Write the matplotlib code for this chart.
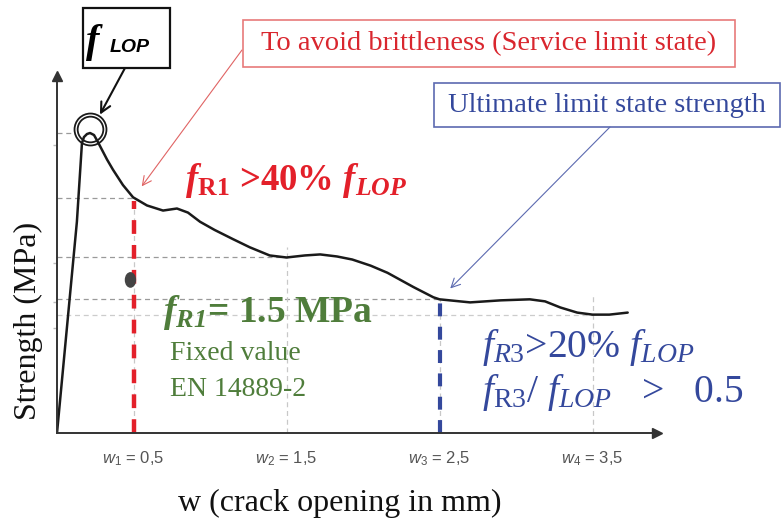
import numpy as np
import matplotlib.pyplot as plt
from matplotlib.patches import Rectangle, Ellipse
from matplotlib.transforms import offset_copy

plt.rcParams['mathtext.fontset'] = 'custom'
plt.rcParams['mathtext.rm'] = 'Liberation Serif'
plt.rcParams['mathtext.it'] = 'Liberation Serif:italic'
plt.rcParams['mathtext.bf'] = 'Liberation Serif:bold'
plt.rcParams['mathtext.bfit'] = 'Liberation Serif:bold:italic'
plt.rcParams['mathtext.sf'] = 'Liberation Sans'
plt.rcParams['mathtext.cal'] = 'Liberation Sans:italic'

# stress - crack opening curve (w in mm, strength in MPa)
w_mm = [0.00, 0.13, 0.163, 0.176, 0.196, 0.216, 0.242, 0.268, 0.327, 0.366, 0.431,
        0.497, 0.588, 0.693, 0.784, 0.856, 0.935, 1.03, 1.15, 1.26, 1.39, 1.50,
        1.62, 1.72, 1.83, 1.93, 2.05, 2.16, 2.33, 2.46, 2.50, 2.70, 2.90, 3.09,
        3.19, 3.29, 3.40, 3.50, 3.61, 3.73]
strength = [0.00, 2.07, 2.84, 2.90, 2.93, 2.94, 2.92, 2.85, 2.68, 2.58, 2.43,
            2.31, 2.23, 2.18, 2.20, 2.16, 2.07, 1.99, 1.90, 1.82, 1.74, 1.72,
            1.74, 1.75, 1.73, 1.70, 1.64, 1.57, 1.43, 1.33, 1.31, 1.28, 1.30, 1.31,
            1.29, 1.23, 1.18, 1.16, 1.16, 1.18]

w_ticks = [0.5, 1.5, 2.5, 3.5]
w_labels = [r'$\mathcal{w}_{\mathsf{1}}$ = 0,5', r'$\mathcal{w}_{\mathsf{2}}$ = 1,5',
            r'$\mathcal{w}_{\mathsf{3}}$ = 2,5', r'$\mathcal{w}_{\mathsf{4}}$ = 3,5']
y_marks = [2.82, 1.67, 1.28, 1.03]
fr1_fixed = 1.5
fr1_dot_w = 0.48

RED = '#e3202a'
GREEN = '#4f7d3b'
BLUE = '#34489c'
GRID = '#9a9a9a'

w = np.array(w_mm)
s = np.array(strength)
levels = np.interp(w_ticks, w, s)
i_peak = np.argmax(s)

fig = plt.figure(figsize=(7.84, 5.19), dpi=100)
ax = fig.add_axes([57 / 784, 86 / 519, 600 / 784, 357 / 519])
ax.set_xlim(0, 600 / 153)
ax.set_ylim(0, 357 * 0.0098)

for side in ['top', 'right']:
    ax.spines[side].set_visible(False)
for side in ['left', 'bottom']:
    ax.spines[side].set_color('#333333')
    ax.spines[side].set_linewidth(1.4)
ax.plot(0, 1, '^', color='#333333', ms=7, transform=ax.transAxes, clip_on=False)
ax.plot(1, 0, '>', color='#333333', ms=7, transform=ax.transAxes, clip_on=False)

ax.set_xticks(w_ticks, w_labels, fontsize=12, color='#555555', family='Liberation Sans')
ax.tick_params(axis='x', length=0, pad=12)
ax.set_yticks(y_marks, [''] * len(y_marks))
ax.tick_params(axis='y', length=3, width=1, color='#bbbbbb', pad=0)

# helper dashed lines
ax.hlines(s[i_peak], 0, 0.1, colors=GRID, lw=0.9, linestyles=(0, (4, 3)))
ax.hlines(levels[:3], 0, w_ticks[:3], colors=GRID, lw=0.9, linestyles=(0, (4, 3)))
ax.hlines(levels[3], 0, w_ticks[3], colors='#cccccc', lw=0.9, linestyles=(0, (4, 3)))
ax.vlines(w_ticks, 0, levels + np.array([0.0, 0.1, 0.0, 0.2]),
          colors='#c8c8c8', lw=0.9, linestyles=(0, (4, 3)))

ax.vlines(w_ticks[0], 0, levels[0] - 0.03, colors=RED, lw=3.2, linestyles=(0, (3.1, 2.5)))
ax.vlines(w_ticks[2], 0, levels[2] - 0.03, colors=BLUE, lw=3.0, linestyles=(0, (3.1, 2.5)))

ax.plot(w, s, color='#1a1a1a', lw=1.8, solid_capstyle='round')

circ_tr = offset_copy(ax.transData, fig=fig, x=0, y=4, units='dots')
ax.plot(w[i_peak], s[i_peak], 'o', mfc='none', mec='#1a1a1a', ms=23, mew=1.3, transform=circ_tr)
ax.plot(w[i_peak], s[i_peak], 'o', mfc='none', mec='#1a1a1a', ms=18.5, mew=1.3, transform=circ_tr)

ax.add_patch(Ellipse((fr1_dot_w, fr1_fixed), 0.065, 0.14, color='#444444', zorder=5))

# overlay in figure pixels for the boxes and texts
ov = fig.add_axes([0, 0, 1, 1], facecolor='none')
ov.set_xlim(0, 784)
ov.set_ylim(519, 0)
ov.axis('off')

ov.add_patch(Rectangle((83, 8), 87, 60, fill=False, ec='#111111', lw=1.6))
ov.text(86, 52, 'f', fontsize=29, family='Liberation Serif', weight='bold', style='italic')
ov.text(110, 52, 'LOP', fontsize=14, family='Liberation Sans', weight='bold', style='italic')

ov.add_patch(Rectangle((243, 20), 492, 47, fill=False, ec='#e77a7a', lw=1.2))
ov.text(489, 44, 'To avoid brittleness (Service limit state)', fontsize=20.5,
        family='Liberation Serif', color='#d9262e', ha='center', va='center')

ov.add_patch(Rectangle((434, 83), 346, 44, fill=False, ec='#5c6ab0', lw=1.2))
ov.text(607, 105, 'Ultimate limit state strength', fontsize=20.5,
        family='Liberation Serif', color=BLUE, ha='center', va='center')

ax.annotate('', xy=(w[i_peak], s[i_peak]), xytext=(125, 68), textcoords=ov.transData,
            arrowprops=dict(arrowstyle='->', lw=1.5, color='#111111', shrinkA=0, shrinkB=15,
                            mutation_scale=18), annotation_clip=False)
ax.annotate('', xy=(w_ticks[0], levels[0]), xytext=(242, 50), textcoords=ov.transData,
            arrowprops=dict(arrowstyle='->', lw=0.8, color='#e06464', shrinkA=0, shrinkB=10,
                            mutation_scale=16), annotation_clip=False)
ax.annotate('', xy=(w_ticks[2], levels[2]), xytext=(610, 127), textcoords=ov.transData,
            arrowprops=dict(arrowstyle='->', lw=0.8, color='#5c6ab0', shrinkA=0, shrinkB=11,
                            mutation_scale=16), annotation_clip=False)

ov.text(185, 190, r'$\mathbfit{f}_{\mathbf{R1}}$ >40% $\mathbfit{f}_{\mathbfit{LOP}}$',
        fontsize=26.5, family='Liberation Serif', weight='bold', color=RED, va='baseline')
ov.text(163, 322, r'$\mathbfit{f}_{\mathbfit{R1}}$= 1.5 MPa',
        fontsize=27, family='Liberation Serif', weight='bold', color=GREEN, va='baseline')
ov.text(170, 360, 'Fixed value', fontsize=20, family='Liberation Serif', color=GREEN, va='baseline')
ov.text(170, 396, 'EN 14889-2', fontsize=20, family='Liberation Serif', color=GREEN, va='baseline')

ov.text(482, 357, r'$\mathit{f}_{\mathit{R3}}$>20% $\mathit{f}_{\mathit{LOP}}$',
        fontsize=28.5, family='Liberation Serif', color=BLUE, va='baseline')
ov.text(482, 402, r'$\mathit{f}_{\mathrm{R3}}$/ $\mathit{f}_{\mathit{LOP}}$   >   0.5',
        fontsize=28.5, family='Liberation Serif', color=BLUE, va='baseline')

ov.text(28, 321, 'Strength (MPa)', fontsize=23, family='Liberation Serif', rotation=90,
        ha='center', va='center', color='#111111')
ov.text(340, 511, 'w (crack opening in mm)', fontsize=23, family='Liberation Serif',
        ha='center', va='baseline', color='#111111')

fig.savefig('out.png', dpi=100)
